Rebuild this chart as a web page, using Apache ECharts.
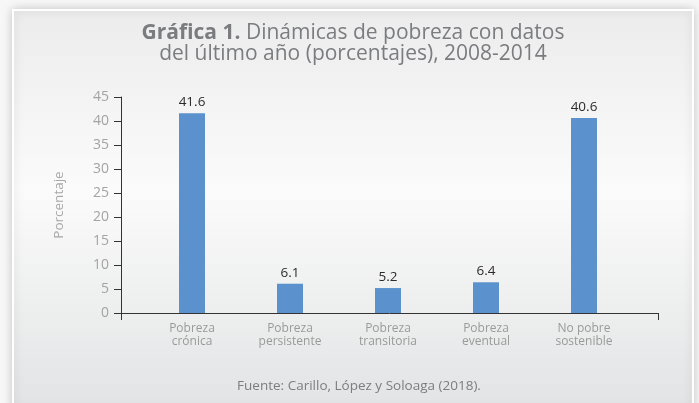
<!DOCTYPE html>
<html>
<head>
<meta charset="utf-8">
<script src="https://cdn.jsdelivr.net/npm/echarts@6/dist/echarts.min.js"></script>
<style>
  html, body { margin: 0; padding: 0; background: #f7f7f7; }
  #main { width: 699px; height: 403px; }
</style>
</head>
<body>
<div id="main"></div>
<script>
// datos de la gráfica
const categories = [
  "Pobreza\ncrónica",
  "Pobreza\npersistente",
  "Pobreza\ntransitoria",
  "Pobreza\neventual",
  "No pobre\nsostenible"
];
const values = [41.6, 6.1, 5.2, 6.4, 40.6];
const yTicks = { min: 0, max: 45, step: 5 };

const FONT = "Open Sans";
const chart = echarts.init(document.getElementById("main"));

const option = {
  animation: false,
  textStyle: { fontFamily: FONT },
  graphic: [
    {
      type: "rect",
      z: -10,
      shape: { x: 13, y: 10, width: 680, height: 400 },
      style: {
        fill: {
          type: "linear", x: 0, y: 0, x2: 0, y2: 1,
          colorStops: [
            { offset: 0, color: "#ececec" },
            { offset: 0.45, color: "#fbfbfb" },
            { offset: 1, color: "#e2e3e4" }
          ]
        },
        stroke: "#ffffff",
        lineWidth: 2,
        shadowBlur: 10,
        shadowColor: "rgba(0,0,0,0.18)"
      }
    }
  ],
  title: [
    {
      text: "{b|Gráfica 1.} Dinámicas de pobreza con datos\ndel último año (porcentajes), 2008-2014",
      left: 348,
      top: 18,
      textAlign: "center",
      textStyle: {
        fontFamily: FONT,
        fontSize: 21,
        fontWeight: "normal",
        color: "#7b7c7f",
        lineHeight: 21,
        rich: {
          b: { fontFamily: FONT, fontSize: 21, fontWeight: "bold", color: "#7b7c7f", lineHeight: 21 }
        }
      }
    },
    {
      text: "Fuente: Carillo, López y Soloaga (2018).",
      left: 354,
      top: 374,
      textAlign: "center",
      textStyle: { fontFamily: FONT, fontSize: 13.5, fontWeight: "normal", color: "#7d7d7d" }
    }
  ],
  grid: [
    { left: 121, right: 41, top: 97, bottom: 90 },
    { left: 143, right: 66, top: 97, bottom: 90 }
  ],
  xAxis: [
    {
      gridIndex: 0,
      type: "value",
      min: 0,
      max: 1,
      interval: 1,
      axisLine: { show: true, lineStyle: { color: "#333", width: 1 } },
      axisTick: { show: true, inside: false, length: 7, lineStyle: { color: "#333" } },
      axisLabel: { show: false },
      splitLine: { show: false }
    },
    {
      gridIndex: 1,
      type: "category",
      data: categories,
      axisLine: { show: false },
      axisTick: { show: false },
      axisLabel: {
        color: "#9a9a9a",
        fontSize: 12,
        lineHeight: 13,
        margin: 9,
        interval: 0
      }
    }
  ],
  yAxis: [
    {
      gridIndex: 0,
      type: "value",
      min: yTicks.min,
      max: yTicks.max,
      interval: yTicks.step,
      name: "Porcentaje",
      nameLocation: "middle",
      nameGap: 55,
      nameTextStyle: { color: "#a8a8a8", fontSize: 13.5 },
      axisLine: { show: true, lineStyle: { color: "#333", width: 1 } },
      axisTick: { show: true, length: 7, lineStyle: { color: "#333" } },
      axisLabel: { color: "#a3a3a3", fontSize: 14, margin: 12 },
      splitLine: { show: false }
    },
    {
      gridIndex: 1,
      type: "value",
      min: yTicks.min,
      max: yTicks.max,
      show: false
    }
  ],
  series: [
    {
      type: "bar",
      xAxisIndex: 1,
      yAxisIndex: 1,
      data: values,
      barWidth: 26,
      itemStyle: { color: "#5b92cd" },
      label: {
        show: true,
        position: "top",
        distance: 4,
        color: "#2b2b2b",
        fontSize: 13.5,
        formatter: (p) => p.value.toFixed(1)
      }
    }
  ]
};

chart.setOption(option);
</script>
</body>
</html>
